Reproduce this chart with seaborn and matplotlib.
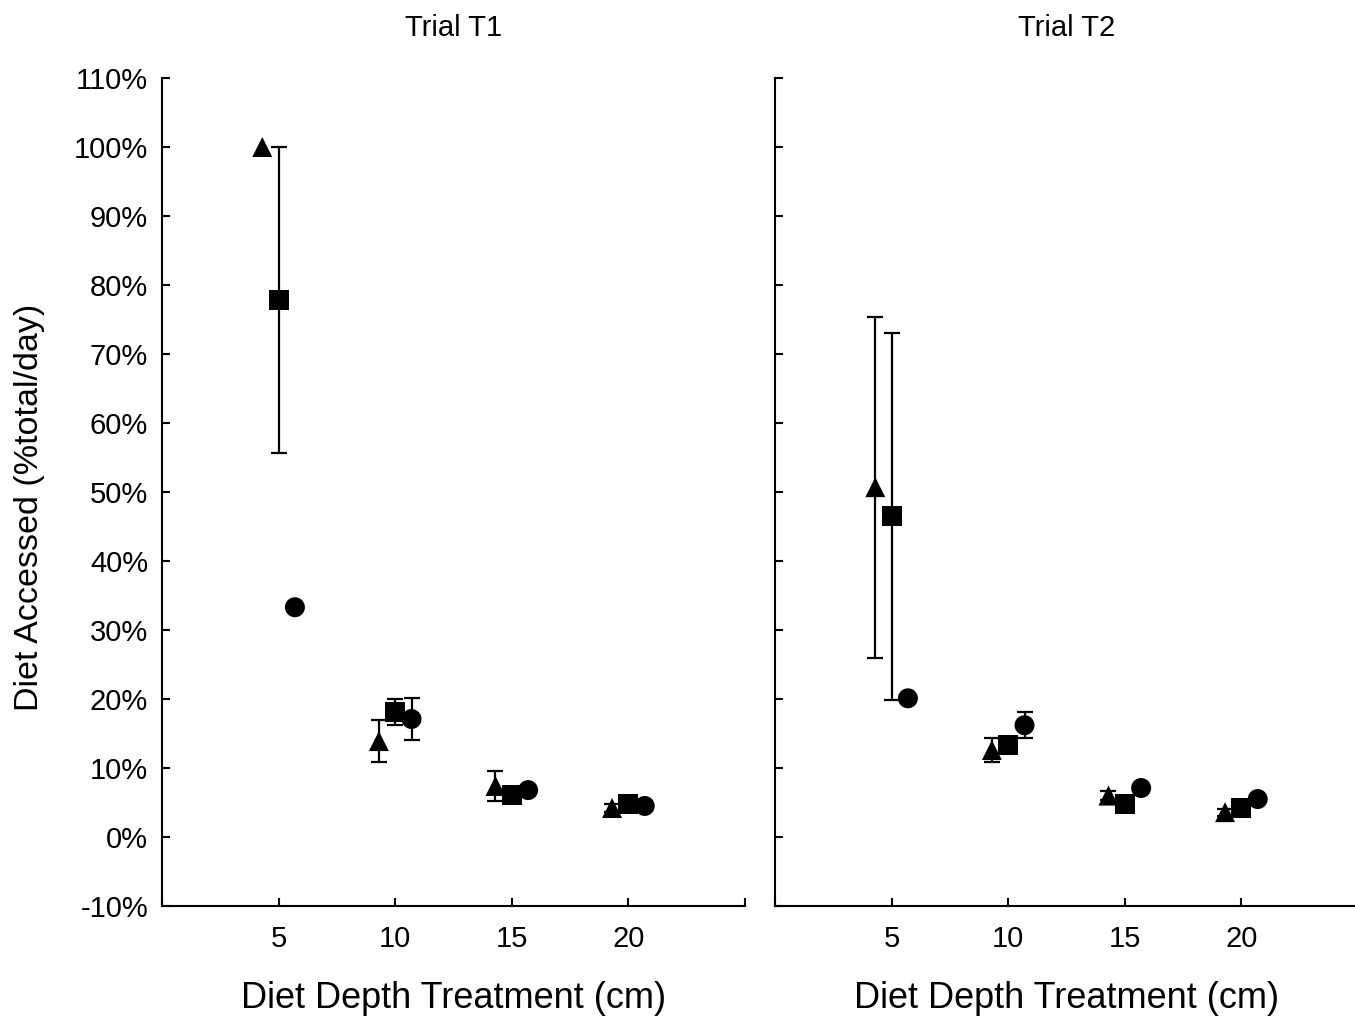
import matplotlib
matplotlib.use("Agg")
import matplotlib.pyplot as plt
import numpy as np
import pandas as pd
import seaborn as sns

# Data (percent of total diet accessed per day)
depths = [5, 10, 15, 20]
trials = ["Trial T1", "Trial T2"]
shapes = ["triangle", "square", "circle"]

t1_triangle = [100.0, 13.9, 7.4, 4.2]
t1_triangle_err = [0.0, 3.0, 2.2, 0.6]
t1_square = [77.8, 18.1, 6.1, 4.8]
t1_square_err = [22.2, 1.9, 0.5, 0.3]
t1_circle = [33.3, 17.1, 6.8, 4.5]
t1_circle_err = [0.0, 3.0, 0.3, 0.3]

t2_triangle = [50.7, 12.6, 6.0, 3.6]
t2_triangle_err = [24.7, 1.7, 0.6, 0.5]
t2_square = [46.5, 13.3, 4.8, 4.2]
t2_square_err = [26.6, 0.5, 0.3, 0.3]
t2_circle = [20.1, 16.2, 7.1, 5.5]
t2_circle_err = [0.3, 1.9, 0.3, 0.3]

yticks = list(range(-10, 111, 10))
xticks = [0, 5, 10, 15, 20, 25]
xticklabels = ["", "5", "10", "15", "20", ""]

series = {
    ("Trial T1", "triangle"): (t1_triangle, t1_triangle_err),
    ("Trial T1", "square"): (t1_square, t1_square_err),
    ("Trial T1", "circle"): (t1_circle, t1_circle_err),
    ("Trial T2", "triangle"): (t2_triangle, t2_triangle_err),
    ("Trial T2", "square"): (t2_square, t2_square_err),
    ("Trial T2", "circle"): (t2_circle, t2_circle_err),
}

rows = []
for (trial, shape), (vals, errs) in series.items():
    for d, v, e in zip(depths, vals, errs):
        rows.append({"trial": trial, "shape": shape, "depth": d, "value": v, "err": e})
df = pd.DataFrame(rows)

# dodge the three groups around each depth
dodge = {"triangle": -0.7, "square": 0.0, "circle": 0.7}
df["pos"] = df["depth"] + df["shape"].map(dodge)

sns.set_style("white")
plt.rcParams["font.family"] = ["Liberation Sans", "DejaVu Sans"]
plt.rcParams["axes.unicode_minus"] = False
for key in ["text.color", "axes.labelcolor", "xtick.color", "ytick.color"]:
    plt.rcParams[key] = "black"

fig = plt.figure(figsize=(13.55, 10.16), dpi=100)
W, H = 1355, 1016
ax_left = fig.add_axes([162 / W, (H - 906) / H, 583 / W, 828 / H])
ax_right = fig.add_axes([775 / W, (H - 906) / H, 583 / W, 828 / H])

marker_map = {"triangle": "^", "square": "s", "circle": "o"}

for ax, trial in zip([ax_left, ax_right], trials):
    sub = df[df["trial"] == trial]
    has_err = sub[sub["err"] > 0]
    ax.errorbar(has_err["pos"], has_err["value"], yerr=has_err["err"], fmt="none",
                ecolor="black", elinewidth=1.6, capsize=6, capthick=1.6, zorder=2)
    sns.scatterplot(data=sub, x="pos", y="value", style="shape", markers=marker_map,
                    style_order=shapes, color="black", s=207, linewidth=0,
                    legend=False, ax=ax, zorder=3)
    ax.set_xlim(0, 25)
    ax.set_ylim(-10, 110)
    ax.set_xticks(xticks)
    ax.set_xticklabels(xticklabels)
    ax.set_yticks(yticks)
    ax.set_title(trial, fontsize=21, color="black", pad=30)
    ax.set_xlabel("Diet Depth Treatment (cm)", fontsize=26, labelpad=20)
    ax.set_ylabel("")
    for side in ["top", "right"]:
        ax.spines[side].set_visible(False)
    for side in ["left", "bottom"]:
        ax.spines[side].set_linewidth(1.5)
        ax.spines[side].set_color("black")
    ax.tick_params(direction="in", length=6, width=1.5, labelsize=21, colors="black",
                   bottom=True, left=True)
    ax.tick_params(axis="x", pad=14)
    ax.tick_params(axis="y", pad=10)

ax_left.set_yticklabels([f"{t}%" for t in yticks])
ax_left.set_ylabel("Diet Accessed (%total/day)", fontsize=24.5)
ax_left.yaxis.set_label_coords(-0.2, 0.481)
ax_right.set_yticklabels([])

fig.savefig("out.png", dpi=100)
